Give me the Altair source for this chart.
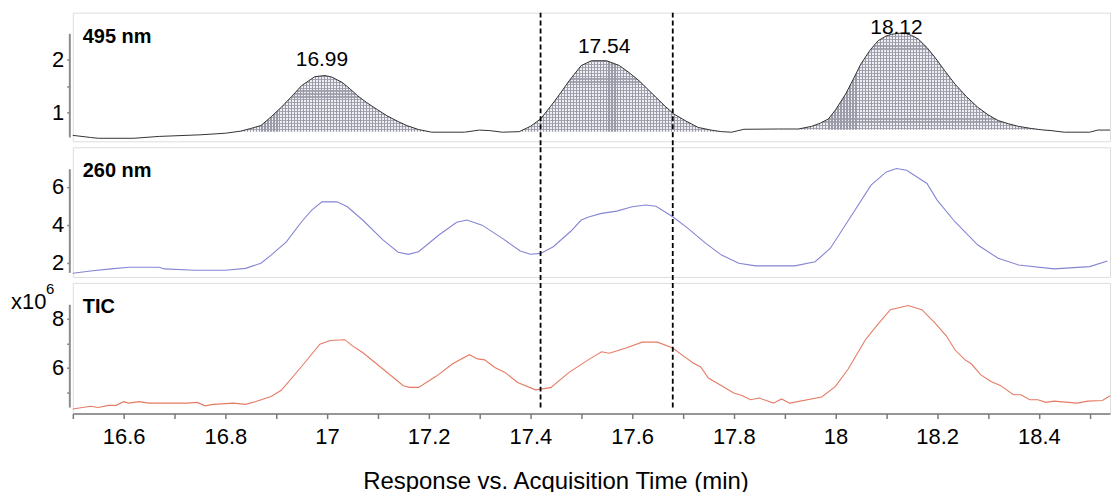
import altair as alt
import pandas as pd

# ---------------- data ----------------
time_495 = [16.50, 16.535, 16.55, 16.62, 16.67, 16.75, 16.80, 16.83, 16.85, 16.87,
            16.89, 16.91, 16.93, 16.95, 16.976, 16.996, 17.01, 17.03, 17.045, 17.06,
            17.078, 17.10, 17.118, 17.14, 17.157, 17.18, 17.206, 17.24, 17.27, 17.30,
            17.32, 17.345, 17.378, 17.40, 17.42, 17.443, 17.46, 17.476, 17.50, 17.52,
            17.55, 17.575, 17.595, 17.614, 17.63, 17.647, 17.665, 17.682, 17.706, 17.73,
            17.755, 17.776, 17.796, 17.82, 17.888, 17.927, 17.953, 17.97, 17.986, 18.00,
            18.02, 18.035, 18.05, 18.068, 18.084, 18.10, 18.11, 18.125, 18.137, 18.15,
            18.163, 18.18, 18.196, 18.215, 18.235, 18.258, 18.28, 18.30, 18.32, 18.34,
            18.36, 18.385, 18.41, 18.424, 18.45, 18.50, 18.516, 18.54]
abs_495 = [0.57, 0.53, 0.515, 0.515, 0.55, 0.58, 0.61, 0.65, 0.70, 0.755,
           0.92, 1.10, 1.30, 1.51, 1.68, 1.70, 1.67, 1.57, 1.45, 1.32,
           1.19, 1.05, 0.94, 0.83, 0.755, 0.68, 0.63, 0.63, 0.63, 0.67,
           0.66, 0.63, 0.64, 0.74, 0.88, 1.16, 1.38, 1.60, 1.89, 1.98,
           1.98, 1.89, 1.75, 1.60, 1.45, 1.29, 1.12, 0.975, 0.84, 0.72,
           0.67, 0.64, 0.63, 0.685, 0.69, 0.69, 0.74, 0.80, 0.88, 1.05,
           1.35, 1.63, 1.92, 2.18, 2.36, 2.45, 2.48, 2.50, 2.50, 2.46,
           2.39, 2.23, 2.04, 1.79, 1.54, 1.30, 1.10, 0.96, 0.85, 0.79,
           0.74, 0.70, 0.67, 0.66, 0.63, 0.63, 0.67, 0.67]

time_260 = [16.5, 16.535, 16.575, 16.61, 16.67, 16.68, 16.74, 16.80, 16.84, 16.87,
            16.89, 16.92, 16.95, 16.97, 16.99, 17.02, 17.04, 17.07, 17.11, 17.14,
            17.16, 17.18, 17.22, 17.255, 17.275, 17.305, 17.345, 17.38, 17.40, 17.42,
            17.445, 17.48, 17.50, 17.516, 17.54, 17.57, 17.60, 17.627, 17.647, 17.68,
            17.71, 17.745, 17.776, 17.81, 17.843, 17.92, 17.96, 17.99, 18.03, 18.07,
            18.10, 18.12, 18.14, 18.18, 18.20, 18.235, 18.28, 18.32, 18.36, 18.43,
            18.50, 18.535]
abs_260 = [1.44, 1.56, 1.67, 1.76, 1.76, 1.67, 1.60, 1.60, 1.70, 1.97,
           2.40, 3.10, 4.16, 4.77, 5.21, 5.21, 4.95, 4.25, 3.20, 2.55,
           2.44, 2.58, 3.46, 4.13, 4.25, 3.98, 3.28, 2.62, 2.44, 2.49,
           2.84, 3.67, 4.25, 4.42, 4.60, 4.72, 4.95, 5.04, 4.98, 4.42,
           3.81, 3.02, 2.40, 1.97, 1.83, 1.83, 2.05, 2.76, 4.42, 6.09,
           6.79, 6.97, 6.88, 6.18, 5.30, 4.16, 2.93, 2.23, 1.88, 1.67,
           1.79, 2.09]

time_tic = [16.5, 16.535, 16.55, 16.57, 16.585, 16.60, 16.61, 16.63, 16.65, 16.725,
            16.745, 16.76, 16.776, 16.816, 16.84, 16.86, 16.89, 16.91, 16.95, 16.986,
            17.006, 17.035, 17.05, 17.07, 17.11, 17.15, 17.163, 17.18, 17.216, 17.247,
            17.28, 17.296, 17.31, 17.33, 17.35, 17.375, 17.41, 17.44, 17.476, 17.516,
            17.54, 17.555, 17.588, 17.62, 17.65, 17.68, 17.70, 17.72, 17.735, 17.75,
            17.776, 17.80, 17.816, 17.833, 17.85, 17.878, 17.894, 17.91, 17.973, 18.0,
            18.025, 18.059, 18.08, 18.108, 18.143, 18.17, 18.196, 18.218, 18.235, 18.255,
            18.267, 18.286, 18.306, 18.324, 18.35, 18.365, 18.382, 18.398, 18.414, 18.43,
            18.476, 18.496, 18.525, 18.54]
tic_e6 = [4.33, 4.44, 4.39, 4.48, 4.48, 4.63, 4.57, 4.63, 4.57, 4.57,
          4.60, 4.46, 4.52, 4.57, 4.52, 4.64, 4.84, 5.09, 6.06, 6.97,
          7.12, 7.15, 6.90, 6.63, 5.96, 5.28, 5.21, 5.21, 5.68, 6.17,
          6.54, 6.37, 6.33, 6.02, 5.82, 5.41, 5.11, 5.20, 5.82, 6.36,
          6.66, 6.60, 6.81, 7.05, 7.05, 6.81, 6.50, 6.20, 6.04, 5.59,
          5.28, 4.98, 4.88, 4.71, 4.78, 4.57, 4.74, 4.57, 4.82, 5.25,
          5.96, 7.15, 7.69, 8.37, 8.54, 8.37, 7.82, 7.31, 6.74, 6.33,
          6.17, 5.72, 5.45, 5.29, 4.91, 4.91, 4.71, 4.71, 4.60, 4.65,
          4.57, 4.65, 4.68, 4.87]

peak_labels = ["16.99", "17.54", "18.12"]
peak_label_time = [16.99, 17.545, 18.12]
peak_label_level = [1.89, 2.13, 2.49]
peak_start = [16.83, 17.378, 17.927]
peak_end = [17.206, 17.776, 18.424]
peak_base = [0.64, 0.64, 0.675]

cut_times = [17.42, 17.68]
x_tick_values = [16.5, 16.6, 16.7, 16.8, 16.9, 17.0, 17.1, 17.2, 17.3, 17.4, 17.5,
                 17.6, 17.7, 17.8, 17.9, 18.0, 18.1, 18.2, 18.3, 18.4, 18.5]

panel_names = ["495 nm", "260 nm", "TIC"]

# ---------------- tables ----------------
df495 = pd.DataFrame({"t": time_495, "v": abs_495})
df_lab = pd.DataFrame({"t": peak_label_time, "v": peak_label_level, "label": peak_labels})
df260 = pd.DataFrame({"t": time_260, "v": abs_260})
dftic = pd.DataFrame({"t": time_tic, "v": tic_e6})
df_cut = pd.DataFrame({"t": cut_times})
one = pd.DataFrame({"k": [0]})

FONT = "Liberation Sans"
W = 1040
XDOM = [16.5, 18.54]
TOP_DOM = [0.458, 2.89]
TOP_H = 129
AX_COL = "#7a7a7a"
HATCH = "#9a9aa8"
PERIOD = 3.0  # hatch spacing in px

x_hidden = alt.X("t:Q", scale=alt.Scale(domain=XDOM, nice=False, zero=False), axis=None)


def stripes(n, horizontal):
    stops = []
    for k in range(n):
        a = k / n
        b = (k + 0.36) / n
        c = (k + 1) / n
        stops += [alt.GradientStop(color=HATCH, offset=a),
                  alt.GradientStop(color=HATCH, offset=b),
                  alt.GradientStop(color="rgba(255,255,255,0)", offset=b),
                  alt.GradientStop(color="rgba(255,255,255,0)", offset=c)]
    if horizontal:
        return alt.Gradient(gradient="linear", stops=stops, x1=0, x2=1, y1=0, y2=0)
    return alt.Gradient(gradient="linear", stops=stops, x1=0, x2=0, y1=0, y2=1)


def y_axis(vals, expr):
    return alt.Axis(values=vals, labelExpr=expr, domain=False, grid=False,
                    tickSize=3, tickColor=AX_COL, tickWidth=1.5, offset=3,
                    labelFontSize=22, labelPadding=3, labelColor="black",
                    labelFont=FONT, title=None)


def panel(base_layers, name, ydom, yvals, yexpr, axis_lo, axis_hi, h, cut_to, xenc):
    y = alt.Y("v:Q", scale=alt.Scale(domain=ydom, nice=False, zero=False),
              axis=y_axis(yvals, yexpr))
    layers = [lay(y, xenc) for lay in base_layers]
    axis_line = alt.Chart(one).mark_rule(color="#8c8c8c", strokeWidth=2).encode(
        x=alt.value(-3), y=alt.datum(axis_lo), y2=alt.datum(axis_hi))
    cuts = alt.Chart(df_cut).mark_rule(color="black", strokeWidth=1.8,
                                       strokeDash=[5, 3]).encode(
        x=alt.X("t:Q"), y=alt.value(0), y2=alt.value(cut_to))
    title = alt.Chart(one).mark_text(align="left", baseline="alphabetic", fontSize=20,
                                     fontWeight="bold", font=FONT, color="black").encode(
        x=alt.value(10), y=alt.value(30), text=alt.value(name))
    return alt.layer(*layers, axis_line, cuts, title).properties(width=W, height=h)


def top_layers():
    fills = []
    for i, (s, e, b) in enumerate(zip(peak_start, peak_end, peak_base)):
        pts = [(t, v) for t, v in zip(time_495, abs_495) if s <= t <= e]
        dfp = pd.DataFrame({"t": [p[0] for p in pts], "v": [p[1] for p in pts], "base": b})
        wpx = (e - s) / (XDOM[1] - XDOM[0]) * W
        hpx = (max(p[1] for p in pts) - b) / (TOP_DOM[1] - TOP_DOM[0]) * TOP_H
        nx = max(1, int(round(wpx / PERIOD)))
        ny = max(1, int(round(hpx / PERIOD)))

        def make(y, xenc, dfp=dfp, nx=nx, ny=ny):
            base = alt.Chart(dfp).encode(x=xenc, y=y, y2="base:Q")
            return alt.layer(
                base.mark_area(color="#eeeff2"),
                base.mark_area(color=stripes(nx, True)),
                base.mark_area(color=stripes(ny, False), opacity=0.85),
            )
        fills.append(make)

    def line(y, xenc):
        return alt.Chart(df495).mark_line(color="#333333", strokeWidth=1).encode(x=xenc, y=y)

    def labels(y, xenc):
        return alt.Chart(df_lab).mark_text(fontSize=21, font=FONT, color="black",
                                           baseline="alphabetic").encode(
            x=xenc, y=alt.Y("v:Q"), text="label:N")
    return fills + [line, labels]


def mid_layers():
    def line(y, xenc):
        return alt.Chart(df260).mark_line(color="#8585d4", strokeWidth=1.1).encode(x=xenc, y=y)
    return [line]


x_bottom = alt.X("t:Q", scale=alt.Scale(domain=XDOM, nice=False, zero=False),
                 axis=alt.Axis(values=x_tick_values,
                               labelExpr="round(datum.value*10)%2==0 ? format(datum.value, '.4~g') : ''",
                               tickSize=5, tickColor=AX_COL, tickWidth=1.5,
                               domainColor=AX_COL, domainWidth=1.5,
                               labelFontSize=22, labelPadding=8, labelColor="black",
                               labelFont=FONT, grid=False,
                               title="Response vs. Acquisition Time (min)",
                               titleFontSize=24, titleFontWeight="normal", titleFont=FONT,
                               titleColor="black", titleX=484, titleY=75,
                               titleBaseline="alphabetic", titleAnchor="middle"))


def bot_layers():
    def line(y, xenc):
        return alt.Chart(dftic).mark_line(color="#e57b65", strokeWidth=1.1).encode(x=xenc, y=y)

    def x10(y, xenc):
        return alt.Chart(one).mark_text(align="left", baseline="alphabetic", fontSize=22,
                                        font=FONT, color="black").encode(
            x=alt.value(-62), y=alt.value(26), text=alt.value("x10"))

    def sup(y, xenc):
        return alt.Chart(one).mark_text(align="left", baseline="alphabetic", fontSize=15,
                                        font=FONT, color="black").encode(
            x=alt.value(-27), y=alt.value(11), text=alt.value("6"))
    return [line, x10, sup]


top = panel(top_layers(), panel_names[0], TOP_DOM, [1, 1.5, 2],
            "datum.value % 1 == 0 ? format(datum.value, 'd') : ''", 0.53, 2.49, TOP_H, 135, x_hidden)
mid = panel(mid_layers(), panel_names[1], [1.247, 8.09], [2, 3, 4, 5, 6],
            "datum.value % 2 == 0 ? format(datum.value, 'd') : ''", 1.46, 6.93, 130, 136, x_hidden)
bot = panel(bot_layers(), panel_names[2], [4.146, 9.46], [5, 6, 7, 8],
            "datum.value % 2 == 0 ? format(datum.value, 'd') : ''", 4.39, 8.57, 131, 127, x_bottom)

chart = alt.vconcat(top, mid, bot, spacing=6).properties(
    bounds="flush",
    padding={"left": 10, "top": 10, "right": 0, "bottom": 0},
    background="white",
).configure_view(stroke=AX_COL, strokeWidth=1.2).configure(font=FONT)

chart.save("out.html", embed_options={"renderer": "svg", "actions": False})
